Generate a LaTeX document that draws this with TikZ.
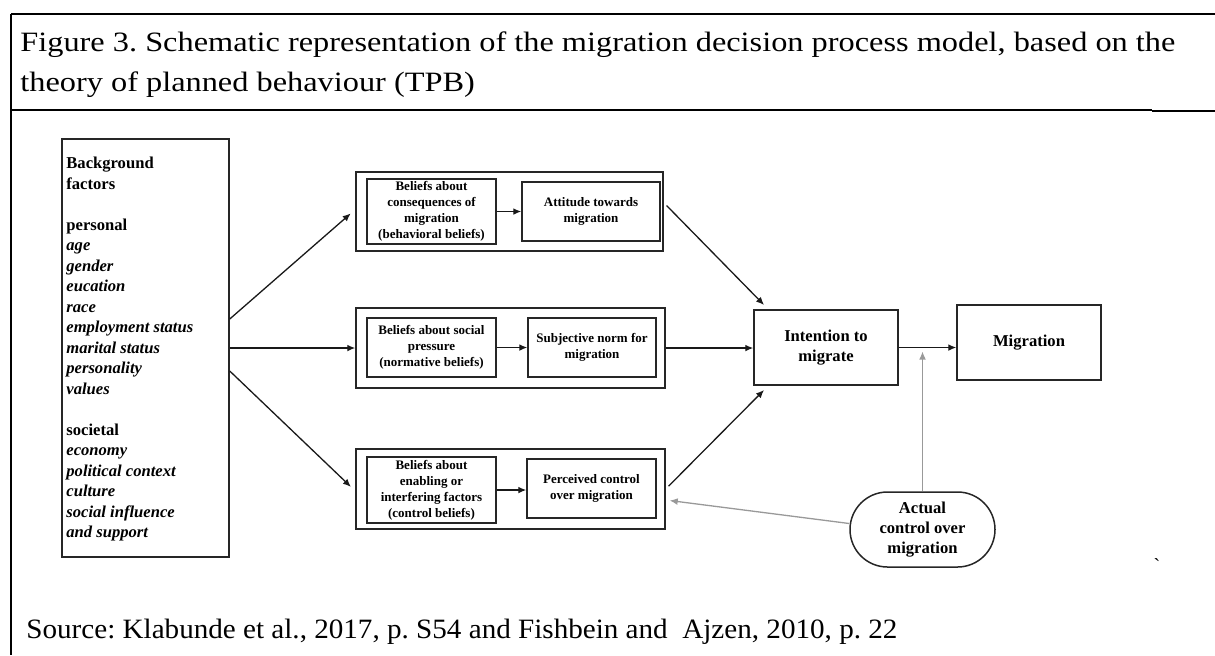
\documentclass[tikz,border=0pt]{standalone}
\usepackage{fontspec}
\setmainfont{Liberation Serif}
\usetikzlibrary{arrows.meta,calc,shapes.misc}
\begin{document}
\frenchspacing
\begin{tikzpicture}[x=0.5pt,y=-0.5pt,
  sz/.style 2 args={minimum width=#1*0.5pt,minimum height=#2*0.5pt},
  grp/.style={draw=black!85,line width=0.75pt,rectangle,inner sep=0pt},
  box/.style={grp,align=center,font=\fontsize{6.5pt}{8pt}\selectfont\bfseries},
  big/.style={grp,align=center,font=\fontsize{8.3pt}{10pt}\selectfont\bfseries},
  arr/.style={-{Latex[length=4pt,width=3.4pt]},line width=0.65pt,black!90},
  garr/.style={-{Latex[length=4pt,width=3.4pt]},line width=0.65pt,black!40},
  txt/.style={anchor=base west,inner sep=0pt,font=\fontsize{14pt}{20pt}\selectfont}
]
\useasboundingbox (0,0) rectangle (1215,655);
% frame
\draw[line width=1pt] (11,14) -- (1215,14);
\draw[line width=1pt] (11,13.5) -- (11,655);
\draw[line width=0.65pt] (11,110) -- (1152,110);
\draw[line width=1.1pt] (1152,111) -- (1215,111);
% title and source
\node[txt] (t1) at (20,51) {\scalebox{1.155}[1]{Figure 3. Schematic representation of the migration decision process model, based on the}};
\node[txt] (t2) at (20,91) {\scalebox{1.155}[1]{theory of planned behaviour (TPB)}};
\node[txt] (src) at (26,638) {\scalebox{1.04}[1]{Source: Klabunde et al., 2017, p. S54 and Fishbein and\ \ Ajzen, 2010, p. 22}};
% background factors
\node[grp,sz={167}{418}] (bg) at (145.5,348) {};
\node[anchor=north west,align=left,inner sep=0pt,font=\fontsize{8.3pt}{10.25pt}\selectfont\bfseries] (bgt) at (66,157)
 {Background\\factors\\[10.25pt]
  personal\\ \textit{age}\\ \textit{gender}\\ \textit{eucation}\\ \textit{race}\\
  \textit{employment status}\\ \textit{marital status}\\ \textit{personality}\\ \textit{values}\\[10.25pt]
  societal\\ \textit{economy}\\ \textit{political context}\\ \textit{culture}\\
  \textit{social influence}\\ \textit{and support}};
% groups
\node[grp,sz={307}{79}] (g1) at (509.5,211.5) {};
\node[box,sz={129}{65}] (b1) at (431.5,211.5) {Beliefs about\\consequences of\\migration\\(behavioral beliefs)};
\node[box,sz={138}{59}] (a1) at (591,211.5) {Attitude towards\\migration};
\node[grp,sz={309}{80}] (g2) at (510.5,348) {};
\node[box,sz={129}{59}] (b2) at (431.5,347.5) {Beliefs about social\\pressure\\(normative beliefs)};
\node[box,sz={128}{59}] (a2) at (592,347.5) {Subjective norm for\\migration};
\node[grp,sz={309}{80}] (g3) at (510.5,489) {};
\node[box,sz={129}{66}] (b3) at (431.5,490) {Beliefs about\\enabling or\\interfering factors\\(control beliefs)};
\node[box,sz={129}{59}] (a3) at (591.5,488.5) {Perceived control\\over migration};
% right part
\node[big,sz={144}{75}] (int) at (826,347.5) {Intention to\\migrate};
\node[big,sz={144}{75}] (mig) at (1029,342.5) {Migration};
\node[big,draw=black!85,rounded rectangle,sz={145}{75}] (act) at (922.5,529.5) {Actual\\control over\\migration};
\node[inner sep=0pt,font=\fontsize{10pt}{12pt}\selectfont] (tick) at (1157,566) {\textasciigrave};
% connectors
\draw[arr,shorten >=3pt] ($(bg.east)+(0,-29)$) -- ($(g1.west)+(0,-2)$);
\draw[arr] (bg.east) -- (g2.west);
\draw[arr,shorten >=3pt] ($(bg.east)+(0,23)$) -- ($(g3.west)+(0,2)$);
\draw[arr] (b1.east) -- (b1.east -| a1.west);
\draw[arr] (b2.east) -- (b2.east -| a2.west);
\draw[arr] (b3.east) -- (b3.east -| a3.west);
\draw[arr,shorten <=2pt,shorten >=3pt] ($(g1.north east)!0.39!(g1.south east)$) -- ($(int.north west)+(15,0)$);
\draw[arr] (g2.east) -- (g2.east -| int.west);
\draw[arr,shorten <=2pt,shorten >=3pt] (g3.east) -- ($(int.south west)+(15,0)$);
\draw[arr] (int.east) -- (int.east -| mig.west);
\draw[garr,shorten >=2pt] (act.north) -- (act.north |- int.east);
\draw[garr,shorten >=2pt] ($(act.west)+(0,-6)$) -- ($(g3.east)+(0,11)$);
\end{tikzpicture}
\end{document}
